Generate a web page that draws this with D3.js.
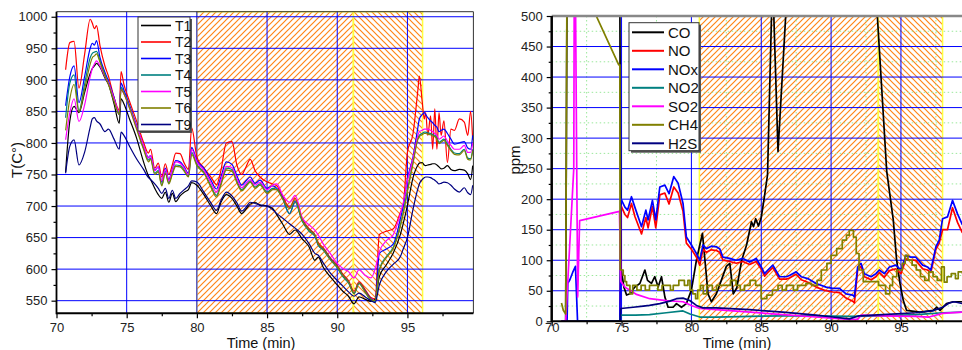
<!DOCTYPE html>
<html>
<head>
<meta charset="utf-8">
<script src="https://cdn.jsdelivr.net/npm/d3@7"></script>
<style>
  body { margin: 0; background: #fff; }
  svg { display: block; font-family: "Liberation Sans", Arial, sans-serif; }
</style>
</head>
<body>
<svg width="962" height="350"></svg>
<script>
// ===========================================================================
// DATA - left panel (temperatures), one shared time axis
// ===========================================================================
const tLeft = [70.65, 70.95, 71.25, 71.6, 72.0, 72.4, 72.55, 72.7, 72.85, 73.1, 73.45, 73.7, 74.1, 74.47, 74.6, 74.8,
  75.2, 75.7, 76.2, 76.55, 76.7, 77.0, 77.25, 77.5, 77.75, 78.0, 78.25, 78.5, 78.8, 79.1, 79.4, 79.63, 80.0,
  80.5, 81.0, 81.4, 81.7, 82.1, 82.5, 82.85, 83.2, 83.5, 83.8, 84.15, 84.5,
  85.0, 85.4, 85.7, 86.1, 86.6, 87.0, 87.5, 88.0, 88.4, 88.65, 89.0, 89.5, 90.0, 90.4, 90.8, 91.2, 91.55, 92.0, 92.4, 92.7,
  93.0, 93.5, 94.0, 94.5, 94.7, 95.0, 95.4, 95.75, 95.85, 96.05, 96.2, 96.3, 96.45, 96.65, 96.8, 96.95, 97.1, 97.25, 97.4, 97.6, 97.85, 98.1, 98.35, 98.7, 99.05, 99.3, 99.5, 99.65];

const T1 = [754, 835, 858, 848, 880, 910, 918, 922, 926, 920, 903, 893, 862, 831, 870, 862,
  838, 808, 770, 748, 742, 728, 718, 712, 722, 706, 720, 707, 716, 722, 726, 737, 733,
  718, 700, 688, 705, 718, 712, 700, 688, 695, 703, 706, 701,
  700, 696, 686, 672, 655, 662, 648, 635, 614, 619, 603, 588, 575, 565, 557, 545, 556, 552, 549, 553,
  588, 607, 626, 655, 672, 701, 745, 765, 768, 769, 765, 764, 765, 766, 767, 767, 765, 762, 759, 760, 764, 758, 756, 758, 757, 751, 742, 764];
const T2 = [916, 959, 961, 887, 940, 996, 990, 981, 986, 954, 922, 906, 872, 852, 913, 893,
  866, 835, 801, 784, 790, 760, 768, 746, 767, 750, 765, 784, 783, 768, 758, 824, 778,
  760, 746, 734, 755, 800, 802, 765, 750, 762, 774, 756, 746,
  738, 735, 732, 716, 698, 712, 680, 664, 655, 642, 634, 618, 606, 592, 582, 565, 580, 567, 555, 553,
  655, 660, 664, 690, 701, 785, 815, 885, 906, 866, 838, 848, 812, 843, 790, 854, 790, 848, 812, 835, 769, 822, 820, 838, 833, 812, 850, 805];
const T3 = [859, 905, 922, 864, 905, 950, 958, 955, 962, 935, 912, 898, 872, 845, 895, 884,
  860, 828, 795, 777, 780, 757, 762, 738, 760, 742, 758, 772, 770, 762, 752, 793, 772,
  760, 741, 727, 745, 770, 766, 748, 733, 740, 746, 736, 741,
  728, 732, 728, 714, 688, 708, 678, 662, 654, 638, 632, 617, 604, 590, 580, 562, 578, 565, 553, 549,
  625, 632, 640, 680, 700, 743, 778, 825, 838, 845, 848, 845, 840, 835, 832, 828, 825, 818, 820, 822, 815, 806, 798, 800, 802, 792, 790, 812];
const T4 = [840, 895, 908, 851, 893, 935, 942, 944, 945, 930, 908, 895, 868, 848, 888, 880,
  858, 825, 792, 773, 776, 752, 756, 733, 755, 737, 753, 765, 764, 757, 748, 785, 766,
  754, 732, 717, 735, 760, 758, 740, 726, 733, 740, 730, 735,
  722, 728, 726, 712, 688, 706, 676, 660, 652, 638, 630, 615, 602, 588, 578, 561, 577, 563, 551, 549,
  600, 620, 635, 670, 690, 725, 770, 808, 812, 815, 817, 817, 816, 815, 813, 812, 808, 801, 803, 806, 798, 790, 784, 783, 790, 776, 775, 790];
const T5 = [805, 848, 870, 834, 860, 905, 918, 925, 930, 922, 905, 895, 870, 850, 885, 878,
  856, 826, 796, 776, 780, 756, 762, 740, 758, 740, 757, 770, 768, 760, 750, 790, 770,
  757, 737, 722, 740, 763, 761, 744, 729, 736, 742, 733, 738,
  726, 733, 735, 718, 706, 717, 682, 670, 662, 654, 640, 625, 609, 601, 596, 586, 599, 590, 586, 600,
  628, 645, 655, 688, 705, 740, 775, 812, 818, 820, 822, 822, 822, 820, 818, 815, 812, 806, 808, 811, 803, 796, 790, 790, 796, 785, 785, 800];
const T6 = [820, 870, 893, 849, 885, 925, 935, 938, 941, 928, 906, 893, 866, 845, 885, 878,
  855, 822, 790, 770, 774, 750, 754, 732, 752, 735, 750, 763, 762, 755, 746, 782, 764,
  752, 730, 714, 732, 757, 755, 737, 724, 731, 738, 728, 733,
  720, 726, 726, 712, 696, 710, 678, 662, 654, 640, 632, 616, 604, 590, 580, 562, 578, 564, 552, 550,
  598, 618, 633, 668, 688, 723, 768, 806, 810, 813, 815, 815, 814, 813, 811, 810, 806, 799, 801, 804, 796, 788, 782, 781, 788, 774, 773, 788];
const T9 = [752, 795, 805, 765, 785, 825, 838, 840, 835, 830, 818, 822, 806, 790, 817, 812,
  795, 775, 758, 745, 742, 735, 728, 720, 728, 712, 725, 712, 720, 726, 732, 740, 738,
  722, 705, 693, 708, 722, 716, 705, 692, 698, 706, 704, 702,
  700, 694, 688, 681, 672, 665, 655, 640, 625, 622, 610, 594, 582, 573, 564, 557, 562, 556, 550, 547,
  575, 596, 608, 620, 632, 650, 695, 728, 735, 742, 745, 746, 746, 745, 743, 741, 738, 735, 736, 738, 737, 733, 727, 722, 729, 721, 718, 733];

const leftNames = ["T1", "T2", "T3", "T4", "T5", "T6", "T9"];
const leftSeries = [T1, T2, T3, T4, T5, T6, T9];
const leftColors = ["#000000", "#ff0000", "#0000ff", "#008080", "#ff00ff", "#808000", "#000080"];
const leftYTicks = [550, 600, 650, 700, 750, 800, 850, 900, 950, 1000];
const leftXTicks = [70, 75, 80, 85, 90, 95];
// shaded test windows [start, end] in minutes
const leftZoneA = [80.0, 91.15];
const leftZoneB = [91.15, 96.08];

// ===========================================================================
// DATA - right panel (gases), [time, ppm] pairs
// ===========================================================================
const CO = [[70.7, 0], [71.0, 0], [71.12, 700], [74.85, 700], [74.95, 89], [75.17, 56], [75.36, 43], [75.6, 45], [75.95, 56],
  [76.31, 62], [76.67, 84], [76.86, 67], [77.14, 62], [77.38, 73], [77.62, 56], [77.86, 73], [78.1, 40], [78.33, 23],
  [78.69, 23], [78.93, 29], [79.29, 23], [79.64, 29], [80.0, 51], [80.36, 100], [80.6, 125], [80.79, 144], [80.95, 105],
  [81.19, 45], [81.43, 32], [81.79, 45], [82.14, 67], [82.5, 90], [82.75, 95], [83.0, 45], [83.25, 55], [83.6, 100],
  [83.95, 125], [84.3, 163], [84.45, 155], [84.6, 168], [84.8, 156], [85.0, 170], [85.2, 200], [85.45, 240], [85.8, 560],
  [85.9, 500], [86.2, 278], [86.75, 500], [87.0, 700], [93.0, 700], [93.31, 500], [93.98, 246], [94.45, 166], [94.69, 100],
  [94.93, 62], [95.17, 34], [95.4, 18], [96.36, 15], [97.31, 18], [97.55, 23], [97.8, 18], [98.26, 29], [98.74, 32], [99.4, 32]];
const NO = [[70.7, 0], [74.88, 0], [74.95, 190], [75.24, 175], [75.43, 170], [75.71, 193], [75.95, 172], [76.43, 143],
  [76.74, 170], [76.9, 153], [77.21, 188], [77.45, 153], [77.74, 207], [78.1, 210], [78.4, 192], [78.74, 220], [79.05, 210],
  [79.4, 180], [79.64, 128], [80.0, 118], [80.36, 105], [80.6, 92], [80.83, 118], [81.07, 113], [81.43, 117], [81.79, 116],
  [82.02, 113], [82.26, 100], [82.74, 98], [83.21, 95], [83.69, 98], [84.17, 93], [84.64, 98], [85.0, 85], [85.24, 74],
  [85.48, 80], [85.83, 88], [86.31, 69], [86.79, 69], [87.02, 71], [87.5, 77], [87.86, 68], [88.33, 64], [88.93, 56],
  [89.64, 50], [90.12, 48], [90.6, 47], [91.07, 38], [91.55, 33], [91.67, 30], [91.9, 84], [92.14, 90], [92.38, 73],
  [92.86, 68], [93.21, 73], [93.45, 80], [93.81, 72], [94.17, 83], [94.64, 86], [95.0, 78], [95.36, 102], [95.71, 100],
  [96.07, 100], [96.55, 86], [96.9, 84], [97.14, 80], [97.5, 118], [97.74, 128], [97.98, 150], [98.33, 150], [98.69, 186],
  [99.05, 162], [99.4, 145]];
const NOx = [[70.7, 0], [71.1, 0], [71.15, 62], [71.3, 68], [71.5, 80], [71.7, 90], [71.85, 0], [74.88, 0], [74.95, 201],
  [75.24, 187], [75.43, 182], [75.71, 204], [75.95, 187], [76.43, 155], [76.74, 182], [76.9, 166], [77.21, 198], [77.45, 166],
  [77.74, 220], [78.1, 223], [78.4, 209], [78.74, 237], [79.05, 226], [79.4, 193], [79.64, 138], [80.0, 125], [80.36, 111],
  [80.6, 100], [80.83, 125], [81.07, 119], [81.43, 123], [81.79, 122], [82.02, 119], [82.26, 105], [82.74, 103], [83.21, 100],
  [83.69, 103], [84.17, 97], [84.64, 103], [85.0, 89], [85.24, 78], [85.48, 84], [85.83, 92], [86.31, 73], [86.79, 73],
  [87.02, 75], [87.5, 81], [87.86, 73], [88.33, 70], [88.93, 62], [89.64, 56], [90.12, 54], [90.6, 54], [91.07, 45],
  [91.55, 43], [91.67, 40], [91.9, 89], [92.14, 95], [92.38, 78], [92.86, 73], [93.21, 78], [93.45, 84], [93.81, 78],
  [94.17, 89], [94.64, 92], [95.0, 84], [95.36, 108], [95.71, 105], [96.07, 105], [96.55, 92], [96.9, 89], [97.14, 84],
  [97.5, 122], [97.74, 133], [97.98, 168], [98.33, 171], [98.69, 198], [99.05, 176], [99.4, 158]];
const NO2 = [[70.7, 0], [74.9, 0], [74.95, 10], [76.0, 10], [77.0, 11], [78.2, 14], [79.4, 17], [79.9, 12], [80.6, 7],
  [81.8, 7], [84.2, 8], [86.6, 9], [89.0, 9], [91.3, 8], [93.7, 9], [96.1, 11], [98.0, 14], [99.4, 15]];
const SO2 = [[70.7, 0], [71.0, 0], [71.58, 250], [71.62, 600], [71.68, 600], [71.86, 40], [72.0, 165], [74.85, 180],
  [74.95, 65], [75.24, 56], [75.6, 51], [76.07, 44], [77.02, 37], [78.2, 34], [79.4, 32], [80.0, 26], [80.6, 21], [81.8, 19],
  [84.2, 15], [86.55, 11], [88.9, 7], [91.3, 3], [91.9, 3], [92.14, 10], [93.7, 9], [96.07, 8], [97.0, 7], [97.98, 13], [99.4, 15]];
const CH4 = [[70.7, 30], [70.83, 18], [71.0, 12], [71.1, 604], [74.8, 420], [74.88, 420], [74.9, 84],
  [75.12, 75], [75.24, 65], [75.36, 59], [75.6, 45], [75.8, 59], [76.1, 51], [76.4, 59], [76.7, 51], [77.0, 59], [77.6, 51],
  [77.9, 59], [78.5, 51], [78.7, 59], [79.1, 67], [79.5, 59], [79.75, 67], [79.9, 51], [80.1, 45], [80.3, 37], [80.45, 51],
  [80.65, 59], [80.85, 45], [81.1, 59], [81.5, 51], [81.8, 59], [82.8, 67], [83.2, 59], [83.5, 51], [83.8, 59], [84.2, 67],
  [84.6, 59], [85.0, 37], [85.4, 43], [85.8, 51], [86.2, 59], [86.5, 51], [86.8, 59], [87.3, 51], [87.6, 59], [88.2, 62],
  [88.6, 59], [89.0, 67], [89.3, 84], [89.7, 95], [90.0, 108], [90.4, 119], [90.8, 133], [91.1, 141], [91.3, 149],
  [91.6, 138], [91.8, 111], [92.0, 84], [92.3, 65], [93.4, 59], [93.9, 45], [94.2, 59], [94.4, 73], [94.7, 84], [95.1, 95],
  [95.3, 108], [95.5, 100], [95.8, 92], [96.1, 84], [96.4, 73], [96.7, 67], [97.0, 81], [97.3, 73], [97.6, 67], [97.9, 89],
  [98.1, 64], [98.3, 73], [98.6, 78], [98.9, 70], [99.1, 81], [99.4, 78]];
const H2S = [[70.7, 0], [74.9, 0], [74.95, 21], [75.83, 23], [76.55, 25], [77.0, 26], [77.74, 29], [78.45, 33], [78.93, 37],
  [79.4, 38], [79.88, 34], [80.36, 26], [80.83, 22], [81.79, 22], [84.17, 19], [86.55, 15], [88.93, 10], [90.12, 7],
  [91.31, 4], [92.0, 9], [93.69, 11], [96.07, 14], [97.26, 17], [97.98, 23], [98.45, 30], [98.81, 32], [99.4, 29]];

const rightNames = ["CO", "NO", "NOx", "NO2", "SO2", "CH4", "H2S"];
const rightSeries = [CO, NO, NOx, NO2, SO2, CH4, H2S];
const rightColors = ["#000000", "#ff0000", "#0000ff", "#008080", "#ff00ff", "#808000", "#000080"];
const rightYTicks = [0, 50, 100, 150, 200, 250, 300, 350, 400, 450, 500];
const rightXTicks = [70, 75, 80, 85, 90, 95];
const rightZoneA = [80.57, 93.38];
const rightZoneB = [93.38, 97.98];

// ===========================================================================
// SETUP
// ===========================================================================
var svg = d3.select("svg");
var defs = svg.append("defs");
var font = "'Liberation Sans', Arial, sans-serif";

// orange hatch fills, "/" and "\"
function hatch(id, up) {
  var p = defs.append("pattern").attr("id", id)
    .attr("patternUnits", "userSpaceOnUse").attr("width", 6).attr("height", 6);
  p.append("path")
    .attr("d", up ? "M-1,1 L1,-1 M0,6 L6,0 M5,7 L7,5" : "M-1,5 L1,7 M0,0 L6,6 M5,-1 L7,1")
    .attr("stroke", "#ff8516").attr("stroke-width", 1.2);
}
hatch("hatchUp", true);
hatch("hatchDown", false);

function panel(o) {
  var x = d3.scaleLinear().domain(o.xDomain).range(o.xRange);
  var y = d3.scaleLinear().domain(o.yDomain).range(o.yRange);
  var left = o.xRange[0], right = o.clipRight, bottom = o.yRange[0], top = o.yRange[1];
  var g = svg.append("g");

  defs.append("clipPath").attr("id", o.id + "clip")
    .append("rect").attr("x", left).attr("y", top).attr("width", right - left).attr("height", bottom - top);

  // hatched windows
  [[o.zoneA, "hatchUp"], [o.zoneB, "hatchDown"]].forEach(function (z) {
    g.append("rect")
      .attr("x", x(z[0][0])).attr("y", top)
      .attr("width", x(z[0][1]) - x(z[0][0])).attr("height", bottom - top)
      .attr("fill", "url(#" + z[1] + ")")
      .attr("stroke", "#ffff40").attr("stroke-width", 1.5);
  });

  // minor grid (right panel only)
  if (o.minorGrid) {
    var mg = g.append("g").attr("stroke", "#9be89b").attr("stroke-width", 1).attr("stroke-dasharray", "1.5,2.5");
    o.yMinor.forEach(function (v) {
      mg.append("line").attr("x1", left).attr("x2", right).attr("y1", y(v)).attr("y2", y(v));
    });
    o.xMinor.forEach(function (v) {
      mg.append("line").attr("x1", x(v)).attr("x2", x(v)).attr("y1", top).attr("y2", bottom);
    });
  }

  // major grid
  var gg = g.append("g").attr("stroke", "#0000ff").attr("stroke-width", 1);
  o.yTicks.filter(function (v) { return v > o.yDomain[0] && v < o.yDomain[1]; }).forEach(function (v) {
    gg.append("line").attr("x1", left).attr("x2", right).attr("y1", y(v)).attr("y2", y(v));
  });
  o.xTicks.filter(function (v) { return v > o.xDomain[0]; }).forEach(function (v) {
    gg.append("line").attr("x1", x(v)).attr("x2", x(v)).attr("y1", top).attr("y2", bottom);
  });

  // data lines
  var lines = g.append("g").attr("clip-path", "url(#" + o.id + "clip)").attr("fill", "none");
  o.series.forEach(function (s, i) {
    var parts = o.split ? o.split(s, i) : [[s, d3.curveMonotoneX]];
    parts.forEach(function (p) {
      var line = d3.line().x(function (d) { return x(d[0]); }).y(function (d) { return y(d[1]); }).curve(p[1]);
      lines.append("path").attr("d", line(p[0]))
        .attr("stroke", o.colors[i]).attr("stroke-width", o.lineWidth).attr("stroke-linejoin", "round");
    });
  });

  // frame
  g.append("line").attr("x1", left).attr("x2", right).attr("y1", top).attr("y2", top)
    .attr("stroke", o.topColor).attr("stroke-width", o.topWidth);
  if (o.rightBorder) {
    g.append("line").attr("x1", right).attr("x2", right).attr("y1", top).attr("y2", bottom)
      .attr("stroke", "#333").attr("stroke-width", 1);
  }

  // axes
  g.append("g").attr("transform", "translate(" + left + ",0)")
    .call(d3.axisLeft(y).tickValues(o.yTicks).tickSize(5).tickPadding(4).tickFormat(d3.format("d")));
  g.append("g").attr("transform", "translate(" + left + ",0)")
    .call(d3.axisLeft(y).tickValues(o.yMinor).tickSize(3).tickFormat(""));
  g.append("g").attr("transform", "translate(0," + bottom + ")")
    .call(d3.axisBottom(x).tickValues(o.xTicks).tickSize(5).tickPadding(o.xPad).tickFormat(d3.format("d")));
  g.append("g").attr("transform", "translate(0," + bottom + ")")
    .call(d3.axisBottom(x).tickValues(o.xMinor).tickSize(3).tickFormat(""));
  g.selectAll(".domain").remove();
  g.selectAll(".tick line").attr("stroke", "#000").attr("stroke-width", 1.2);
  g.selectAll(".tick text").attr("font-family", font).attr("font-size", 13).attr("fill", "#222");

  g.append("line").attr("x1", left).attr("x2", right).attr("y1", bottom).attr("y2", bottom)
    .attr("stroke", "#000").attr("stroke-width", 2);
  g.append("line").attr("x1", left).attr("x2", left).attr("y1", top).attr("y2", bottom + 1)
    .attr("stroke", "#000").attr("stroke-width", o.yAxisWidth);

  // legend
  var L = o.legend;
  g.append("rect").attr("x", L.x + 2).attr("y", L.y + 2).attr("width", L.w).attr("height", L.h).attr("fill", "#555");
  g.append("rect").attr("x", L.x).attr("y", L.y).attr("width", L.w).attr("height", L.h)
    .attr("fill", "#fff").attr("stroke", "#333").attr("stroke-width", 1);
  o.names.forEach(function (n, i) {
    var ly = L.first + i * L.step;
    g.append("line").attr("x1", L.x + 3).attr("x2", L.x + 3 + L.len).attr("y1", ly).attr("y2", ly)
      .attr("stroke", o.colors[i]).attr("stroke-width", L.lw);
    g.append("text").attr("x", L.x + L.len + 7).attr("y", ly).attr("dy", "0.36em")
      .attr("font-family", font).attr("font-size", L.fs).attr("fill", "#111").text(n);
  });

  // titles
  g.append("text").attr("x", o.xTitle[0]).attr("y", o.xTitle[1]).attr("text-anchor", "middle")
    .attr("font-family", font).attr("font-size", 14.5).attr("fill", "#111").text("Time (min)");
  g.append("text").attr("transform", "translate(" + o.yTitle[0] + "," + o.yTitle[1] + ") rotate(-90)")
    .attr("text-anchor", "middle").attr("font-family", font).attr("font-size", 15).attr("fill", "#111").text(o.yLabel);
}

// ===========================================================================
// LEFT PANEL
// ===========================================================================
panel({
  id: "L",
  xDomain: [70, 99.7], xRange: [56.5, 473.4], clipRight: 473.4,
  yDomain: [530, 1008], yRange: [313.3, 11.7],
  xTicks: leftXTicks, xMinor: [72.5, 77.5, 82.5, 87.5, 92.5, 97.5],
  yTicks: leftYTicks, yMinor: [575, 625, 675, 725, 775, 825, 875, 925, 975],
  zoneA: leftZoneA, zoneB: leftZoneB,
  series: leftSeries.map(function (vals) { return vals.map(function (v, i) { return [tLeft[i], v]; }); }),
  colors: leftColors, names: leftNames, lineWidth: 1.2,
  topColor: "#333", topWidth: 1, rightBorder: true, yAxisWidth: 1.8, xPad: 4,
  legend: { x: 138, y: 17, w: 52, h: 114, first: 25.5, step: 16.5, len: 30, lw: 1.6, fs: 14 },
  xTitle: [261, 347.5], yTitle: [22, 160], yLabel: "T(C°)"
});

// ===========================================================================
// RIGHT PANEL
// ===========================================================================
panel({
  id: "R",
  xDomain: [70, 100], xRange: [551.7, 970.8], clipRight: 962,
  yDomain: [0, 500], yRange: [321.3, 16],
  xTicks: rightXTicks, xMinor: [72.5, 77.5, 82.5, 87.5, 92.5, 97.5],
  yTicks: rightYTicks, yMinor: [25, 75, 125, 175, 225, 275, 325, 375, 425, 475],
  zoneA: rightZoneA, zoneB: rightZoneB, minorGrid: true,
  series: rightSeries, colors: rightColors, names: rightNames, lineWidth: 1.7,
  // CH4 is a stepped reading once the sensor settles
  split: function (s, i) {
    if (rightNames[i] !== "CH4") return [[s, d3.curveLinear]];
    return [[s.filter(function (d) { return d[0] <= 74.9; }), d3.curveLinear],
            [s.filter(function (d) { return d[0] >= 74.9; }), d3.curveStepAfter]];
  },
  topColor: "#888", topWidth: 2.5, rightBorder: false, yAxisWidth: 2.5, xPad: -4,
  legend: { x: 629, y: 22.7, w: 70, h: 128, first: 32.3, step: 18.5, len: 32, lw: 2, fs: 15 },
  xTitle: [737, 347.5], yTitle: [520, 160], yLabel: "ppm"
});
</script>
</body>
</html>
